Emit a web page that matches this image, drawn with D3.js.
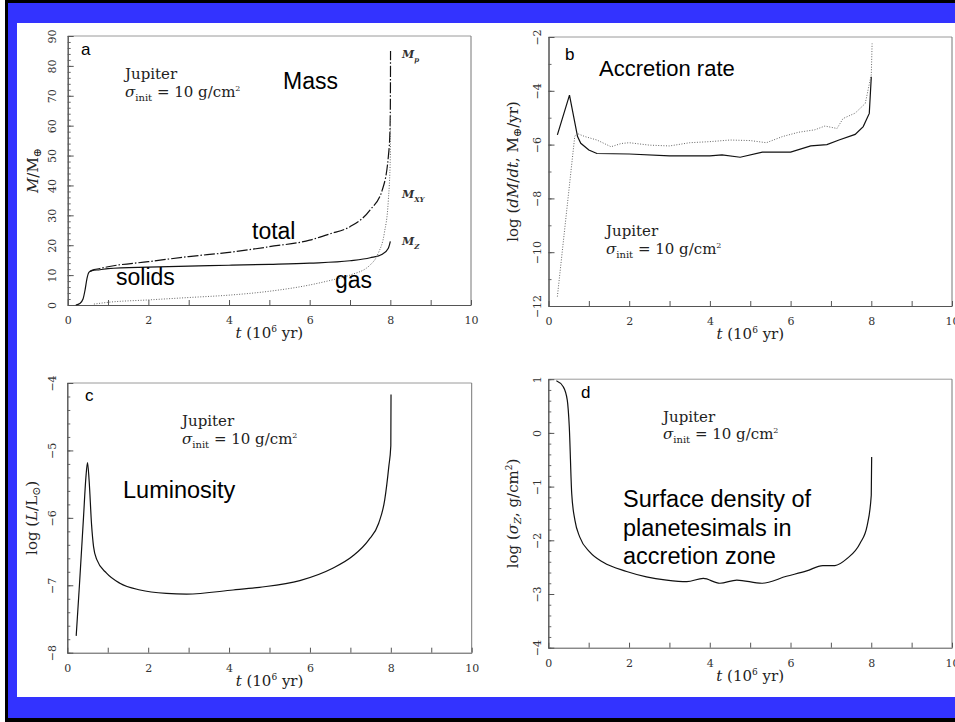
<!DOCTYPE html>
<html><head><meta charset="utf-8">
<script src="https://cdn.jsdelivr.net/npm/d3@7"></script>
<style>body{margin:0;background:#fff}svg{display:block}</style>
</head><body>
<svg id="c" width="955" height="722"></svg>
<script>
// ---------- DATA ----------
const xTickValues = [0,1,2,3,4,5,6,7,8,9,10];
const xTickLabels = ["0","","2","","4","","6","","8","","10"];

// Panel a: mass (M_earth) vs t (Myr)
const aYTicks = [0,10,20,30,40,50,60,70,80,90];
const tSolids = [0.2,0.3,0.38,0.43,0.48,0.53,0.6,0.8,1,2,3,4,5,6,7,7.5,7.8,7.95,8.0];
const mSolids = [0,0.5,2,5,9,11,11.5,11.8,12.2,12.7,13,13.3,13.6,14,14.8,15.8,17,19,21.3];
const tTotal = [0.55,0.6,0.8,1,2,3,4,5,6,6.5,7,7.5,7.8,7.95,7.99,8.0,8.005];
const mTotal = [11.2,11.6,12.2,12.8,14.5,16.2,17.6,19.5,21.7,23.8,26.2,31.8,38.5,49.6,58,66,85];
const tGas = [0.65,1,2,3,4,5,6,6.5,7,7.5,7.7,7.85,7.95,8.0,8.005];
const mGas = [0.3,0.9,1.7,2.5,3.3,4.6,6.7,8.2,10,13.4,17.3,24,35,50,64];

// Panel b: log accretion rate
const bYTicks = [-12,-10,-8,-6,-4,-2];
const tRateSolid = [0.22,0.52,0.72,0.8,1,1.2,2,3,4,4.3,4.75,5.3,6,6.5,6.9,7.2,7.6,7.8,7.95,8.0];
const vRateSolid = [-5.64,-4.16,-5.7,-5.95,-6.2,-6.33,-6.35,-6.42,-6.42,-6.38,-6.47,-6.28,-6.28,-6.05,-6.0,-5.83,-5.62,-5.33,-4.84,-3.48];
const tRateGas = [0.22,0.65,0.7,0.9,1.2,1.55,1.8,2,2.5,3,3.5,4,4.5,5,5.4,5.8,6.2,6.6,6.85,7.15,7.3,7.6,7.85,8.0,8.02];
const vRateGas = [-11.65,-5.7,-5.58,-5.7,-5.83,-6.08,-5.96,-5.93,-6.02,-6.05,-5.93,-5.89,-5.83,-5.85,-5.93,-5.70,-5.54,-5.45,-5.31,-5.40,-5.03,-4.83,-4.47,-3.4,-2.24];

// Panel c: log luminosity
const cYTicks = [-8,-7,-6,-5,-4];
const tLum = [0.22,0.3,0.4,0.46,0.5,0.54,0.6,0.65,0.73,0.97,1.3,1.8,2.45,2.95,4.1,4.75,5.75,6.55,7.05,7.45,7.7,7.85,7.95,8.0,8.005];
const vLum = [-7.75,-7.0,-6.0,-5.4,-5.18,-5.45,-6.1,-6.43,-6.62,-6.82,-6.97,-7.07,-7.12,-7.13,-7.07,-7.03,-6.93,-6.75,-6.57,-6.33,-6.08,-5.73,-5.24,-4.93,-4.17];

// Panel d: log surface density
const dYTicks = [-4,-3,-2,-1,0,1];
const tSig = [0.2,0.37,0.47,0.52,0.58,0.66,0.78,1.03,1.36,1.94,2.43,2.93,3.43,3.84,4.25,4.67,5.29,5.9,6.4,6.8,7.1,7.4,7.72,7.9,8.0,8.01];
const vSig = [0.97,0.86,0.61,0.11,-1.13,-1.63,-1.94,-2.22,-2.41,-2.58,-2.68,-2.74,-2.77,-2.71,-2.80,-2.74,-2.80,-2.67,-2.57,-2.47,-2.47,-2.34,-2.06,-1.72,-1.16,-0.45];

// ---------- DRAW ----------
const svg = d3.select("#c");
svg.append("rect").attr("x",5).attr("y",0).attr("width",950).attr("height",722).attr("fill","#000");
svg.append("rect").attr("x",8).attr("y",3).attr("width",947).attr("height",715).attr("fill","#3333ff");
svg.append("rect").attr("x",17).attr("y",23).attr("width",938).attr("height",674).attr("fill","#fff");

const SERIF = "'DejaVu Serif', 'Liberation Serif', serif";
const SANS = "'Liberation Sans', Arial, sans-serif";

function zip(t,v){ return t.map((d,i)=>[d,v[i]]); }

function panel(cfg){
  const x = d3.scaleLinear().domain([0,10]).range([cfg.x0,cfg.x1]);
  const y = d3.scaleLinear().domain(cfg.yDomain).range([cfg.y0,cfg.y1]);
  const g = svg.append("g");
  // top & right frame
  g.append("line").attr("x1",cfg.x0).attr("x2",cfg.x1).attr("y1",cfg.y1).attr("y2",cfg.y1)
    .attr("stroke","#9a9a9a").attr("stroke-width",1);
  g.append("line").attr("x1",cfg.x1).attr("x2",cfg.x1).attr("y1",cfg.y1).attr("y2",cfg.y0)
    .attr("stroke","#777").attr("stroke-width",1);
  // x axis
  const xa = g.append("g").attr("transform",`translate(0,${cfg.y0})`)
    .call(d3.axisBottom(x).tickValues(xTickValues).tickSize(-5).tickSizeOuter(0)
      .tickFormat((d,i)=>xTickLabels[i]));
  xa.select(".domain").attr("stroke","#555");
  xa.selectAll(".tick line").attr("stroke","#555");
  xa.selectAll("text").attr("y",15).attr("dy","0.35em").attr("font-family",SERIF)
    .attr("font-size",11).attr("fill","#333");
  // y minor
  const ya2 = g.append("g").attr("transform",`translate(${cfg.x0},0)`)
    .call(d3.axisLeft(y).tickValues(cfg.minor).tickSize(-3).tickSizeOuter(0).tickFormat(""));
  ya2.select(".domain").attr("stroke","#555");
  ya2.selectAll(".tick line").attr("stroke","#666");
  // y major
  const ya = g.append("g").attr("transform",`translate(${cfg.x0},0)`)
    .call(d3.axisLeft(y).tickValues(cfg.major).tickSize(-6).tickSizeOuter(0).tickFormat(d3.format("d")));
  ya.select(".domain").attr("stroke","#555");
  ya.selectAll(".tick line").attr("stroke","#555");
  ya.selectAll("text").attr("x",0).attr("dy",null).attr("text-anchor","middle")
    .attr("dominant-baseline","central")
    .attr("transform",`translate(${-cfg.ylabOff},0) rotate(-90)`)
    .attr("font-family",SERIF).attr("font-size",11).attr("fill","#333");
  // x title
  const xt = g.append("text").attr("x",(cfg.x0+cfg.x1)/2).attr("y",cfg.y0+33)
    .attr("text-anchor","middle").attr("font-family",SERIF).attr("font-size",15).attr("fill","#222");
  xt.append("tspan").attr("font-style","italic").text("t");
  xt.append("tspan").text(" (10");
  xt.append("tspan").attr("font-size",9).attr("dy",-6).text("6");
  xt.append("tspan").attr("dy",6).text(" yr)");
  // y title
  const yt = g.append("text").attr("transform",`translate(${cfg.x0-cfg.ytitleOff},${(cfg.y0+cfg.y1)/2}) rotate(-90)`)
    .attr("text-anchor","middle").attr("font-family",SERIF).attr("font-size",15).attr("fill","#222");
  cfg.ytitle(yt);
  // series
  cfg.series.forEach(s=>{
    const line = d3.line().x(d=>x(d[0])).y(d=>y(d[1])).curve(s.curve||d3.curveMonotoneX);
    g.append("path").datum(zip(s.t,s.v)).attr("d",line).attr("fill","none")
      .attr("stroke",s.color||"#111").attr("stroke-width",s.width||1.2)
      .attr("stroke-dasharray",s.dash||null);
  });
  return {g,x,y};
}

function sigmaLine(g, xx, yy){
  const t = g.append("text").attr("x",xx).attr("y",yy).attr("font-family",SERIF).attr("font-size",15).attr("fill","#222");
  t.append("tspan").attr("font-style","italic").text("σ");
  t.append("tspan").attr("font-size",10).attr("dy",4).text("init");
  t.append("tspan").attr("dy",-4).text(" = 10 g/cm");
  t.append("tspan").attr("font-size",8).attr("dy",-6).text("2");
}
function jupiter(g, xx, yy, yy2){
  g.append("text").attr("x",xx).attr("y",yy).attr("font-family",SERIF).attr("font-size",15).attr("fill","#222").text("Jupiter");
  sigmaLine(g, xx, yy2);
}
function sans(g, xx, yy, txt, size){
  g.append("text").attr("x",xx).attr("y",yy).attr("font-family",SANS).attr("font-size",size).attr("fill","#000").text(txt);
}
function mlabel(g, xx, yy, sub){
  const t = g.append("text").attr("x",xx).attr("y",yy).attr("font-family",SERIF).attr("font-size",11)
    .attr("font-style","italic").attr("font-weight","bold").attr("fill","#333");
  t.append("tspan").text("M");
  t.append("tspan").attr("font-size",7).attr("dy",4).text(sub);
}

// Panel a
const pa = panel({
  x0:67.7, x1:471, y0:305, y1:36, yDomain:[0,90],
  major:aYTicks, minor:d3.range(0,91,2), ylabOff:15, ytitleOff:30,
  ytitle: t=>{ t.append("tspan").attr("font-style","italic").text("M");
               t.append("tspan").text("/M");
               t.append("tspan").attr("font-size",11).attr("dy",3).text("⊕"); },
  series:[
    {t:tSolids, v:mSolids},
    {t:tTotal, v:mTotal, dash:"11,2,1.5,2"},
    {t:tGas, v:mGas, dash:"1,1.6", color:"#666", width:1}
  ]
});
sans(pa.g, 81, 55, "a", 17);
jupiter(pa.g, 125, 79, 97);
sans(pa.g, 283, 89, "Mass", 23);
sans(pa.g, 252, 239, "total", 23);
sans(pa.g, 116, 285, "solids", 23);
sans(pa.g, 335, 288, "gas", 23);
mlabel(pa.g, 402, 58, "p");
mlabel(pa.g, 402, 198, "XY");
mlabel(pa.g, 402, 245, "Z");

// Panel b
const pb = panel({
  x0:548.5, x1:952, y0:306, y1:37, yDomain:[-12,-2],
  major:bYTicks, minor:d3.range(-12,-1.9,1), ylabOff:11.5, ytitleOff:30.5,
  ytitle: t=>{ t.append("tspan").text("log (");
               t.append("tspan").attr("font-style","italic").text("dM");
               t.append("tspan").text("/");
               t.append("tspan").attr("font-style","italic").text("dt");
               t.append("tspan").text(", M");
               t.append("tspan").attr("font-size",11).attr("dy",3).text("⊕");
               t.append("tspan").attr("dy",-3).text("/yr)"); },
  series:[
    {t:tRateSolid, v:vRateSolid, curve:d3.curveLinear},
    {t:tRateGas, v:vRateGas, dash:"1,1.6", color:"#666", width:1, curve:d3.curveLinear}
  ]
});
sans(pb.g, 565, 60, "b", 17);
sans(pb.g, 599, 76, "Accretion rate", 22);
jupiter(pb.g, 606, 236, 254);

// Panel c
const pc = panel({
  x0:67.3, x1:471.7, y0:652.7, y1:383, yDomain:[-8,-4],
  major:cYTicks, minor:d3.range(-8,-3.99,0.2), ylabOff:15, ytitleOff:30,
  ytitle: t=>{ t.append("tspan").text("log (");
               t.append("tspan").attr("font-style","italic").text("L");
               t.append("tspan").text("/L");
               t.append("tspan").attr("font-size",11).attr("dy",3).text("⊙");
               t.append("tspan").attr("dy",-3).text(")"); },
  series:[ {t:tLum, v:vLum} ]
});
sans(pc.g, 85, 401, "c", 17);
jupiter(pc.g, 182, 426, 444);
sans(pc.g, 123, 498, "Luminosity", 23.5);

// Panel d
const pd = panel({
  x0:548.3, x1:952, y0:647.7, y1:379.2, yDomain:[-4,1],
  major:dYTicks, minor:d3.range(-4,1.01,0.2), ylabOff:11, ytitleOff:30,
  ytitle: t=>{ t.append("tspan").text("log (");
               t.append("tspan").attr("font-style","italic").text("σ");
               t.append("tspan").attr("font-size",10).attr("font-style","italic").attr("dy",3).text("Z");
               t.append("tspan").attr("dy",-3).text(", g/cm");
               t.append("tspan").attr("font-size",9).attr("dy",-6).text("2");
               t.append("tspan").attr("dy",6).text(")"); },
  series:[ {t:tSig, v:vSig} ]
});
sans(pd.g, 581, 398, "d", 17);
jupiter(pd.g, 663, 422, 439);
sans(pd.g, 623, 507, "Surface density of", 23.5);
sans(pd.g, 623, 536, "planetesimals in", 23.5);
sans(pd.g, 623, 564, "accretion zone", 23.5);
</script>
</body></html>
